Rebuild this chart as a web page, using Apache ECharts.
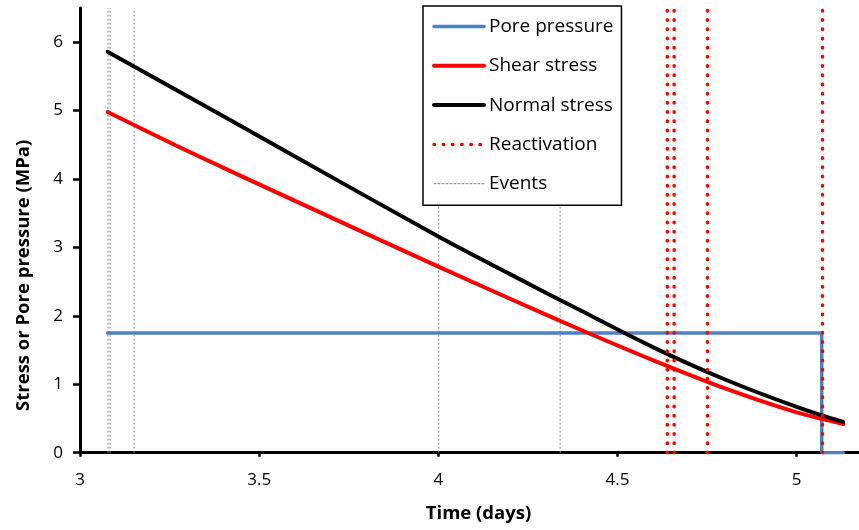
<!DOCTYPE html>
<html>
<head>
<meta charset="utf-8">
<script src="https://cdn.jsdelivr.net/npm/echarts@6/dist/echarts.min.js"></script>
<style>
html,body{margin:0;padding:0;background:#fff;}
#chart{width:859px;height:530px;}
</style>
</head>
<body>
<div id="chart"></div>
<script>
// ---- data ----
const stressTime   = [3.077, 3.3, 3.6, 4.0, 4.2, 4.4, 4.6, 4.8, 5.0, 5.13];
const normalStress = [5.86, 5.21, 4.33, 3.16, 2.61, 2.07, 1.54, 1.07, 0.67, 0.45];
const shearStress  = [4.98, 4.41, 3.68, 2.72, 2.25, 1.79, 1.35, 0.94, 0.59, 0.42];
const poreTime     = [3.077, 5.07, 5.07, 5.13];
const porePressure = [1.75, 1.75, 0, 0];
const reactivationTimes = [4.639, 4.658, 4.751, 5.072];
const eventTimes = [3.078, 3.084, 3.151, 4.001, 4.340];
const xTickLabels = [3, 3.5, 4, 4.5, 5];
const yTickLabels = [0, 1, 2, 3, 4, 5, 6];
const legendNames = ['Pore pressure', 'Shear stress', 'Normal stress', 'Reactivation', 'Events'];
const X_MIN = 3, X_MAX = 5.174, Y_MIN = 0, Y_MAX = 6.5;

const FONT = '"Open Sans", "DejaVu Sans", sans-serif';
const zip = (xs, ys) => xs.map((x, i) => [x, ys[i]]);
const vline = t => [[t, Y_MIN], [t, Y_MAX]];

const series = [];
eventTimes.forEach(t => series.push({
  name: 'Events', type: 'line', data: vline(t), symbol: 'none', silent: true, z: 1,
  itemStyle: { color: '#8a8a8a' },
  lineStyle: { color: '#8a8a8a', width: 1, type: [2, 2] }
}));
series.push({
  name: 'Pore pressure', type: 'line', data: zip(poreTime, porePressure), symbol: 'none', z: 3,
  itemStyle: { color: '#4F81BD' },
  lineStyle: { color: '#4F81BD', width: 3.5, cap: 'round' }
});
series.push({
  name: 'Shear stress', type: 'line', data: zip(stressTime, shearStress), symbol: 'none', z: 4,
  smooth: 0.3,
  itemStyle: { color: '#FF0000' },
  lineStyle: { color: '#FF0000', width: 4, cap: 'round' }
});
series.push({
  name: 'Normal stress', type: 'line', data: zip(stressTime, normalStress), symbol: 'none', z: 5,
  smooth: 0.3,
  itemStyle: { color: '#000000' },
  lineStyle: { color: '#000000', width: 4, cap: 'round' }
});
reactivationTimes.forEach(t => series.push({
  name: 'Reactivation', type: 'line', data: vline(t), symbol: 'none', silent: true, z: 6,
  itemStyle: { color: '#FF0000' },
  lineStyle: { color: '#FF0000', width: 3.5, type: [0.5, 8.7], cap: 'round' }
}));

const chart = echarts.init(document.getElementById('chart'), null, { renderer: 'canvas' });
chart.setOption({
  animation: false,
  backgroundColor: '#ffffff',
  textStyle: { fontFamily: FONT },
  grid: { left: 80, right: 0, top: 8, bottom: 77.3, containLabel: false },
  legend: {
    data: legendNames,
    orient: 'vertical',
    left: 423, top: 6,
    padding: [11, 8, 12, 9],
    itemWidth: 50, itemHeight: 14, itemGap: 20.3,
    borderColor: '#000', borderWidth: 1.5, backgroundColor: '#fff',
    itemStyle: { opacity: 0 },
    lineStyle: { width: 'inherit', type: 'inherit', cap: 'round' },
    textStyle: { fontFamily: FONT, fontSize: 19, color: '#000' },
    selectedMode: false
  },
  xAxis: {
    type: 'value', min: X_MIN, max: X_MAX, interval: 0.5,
    name: 'Time (days)', nameLocation: 'middle', nameGap: 52,
    nameTextStyle: { fontFamily: FONT, fontSize: 18.5, fontWeight: 'bold', color: '#000', padding: [0, 0, 0, 18] },
    axisLine: { onZero: false, lineStyle: { color: '#000', width: 3 } },
    axisTick: { show: true, length: 4, inside: false, customValues: xTickLabels, lineStyle: { color: '#000', width: 2.5 } },
    axisLabel: { customValues: xTickLabels, margin: 19, fontFamily: FONT, fontSize: 17, color: '#000' },
    splitLine: { show: false }
  },
  yAxis: {
    type: 'value', min: Y_MIN, max: Y_MAX, interval: 1,
    name: 'Stress or Pore pressure (MPa)', nameLocation: 'middle', nameGap: 47, nameRotate: 90,
    nameTextStyle: { fontFamily: FONT, fontSize: 18.5, fontWeight: 'bold', color: '#000', padding: [0, 90, 0, 0] },
    axisLine: { onZero: false, lineStyle: { color: '#000', width: 3 } },
    axisTick: { show: true, length: 7, inside: false, customValues: yTickLabels, lineStyle: { color: '#000', width: 2.5 } },
    axisLabel: { customValues: yTickLabels, margin: 17, fontFamily: FONT, fontSize: 17, color: '#000' },
    splitLine: { show: false }
  },
  series: series
});
</script>
</body>
</html>
